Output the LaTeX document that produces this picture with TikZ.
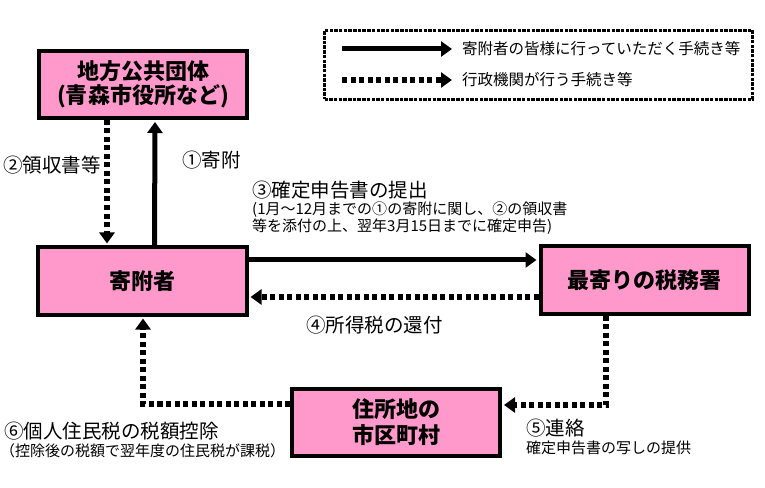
\documentclass[tikz,border=0pt]{standalone}
\usepackage{fontspec}
\setmainfont{Noto Sans CJK JP}
\usetikzlibrary{arrows.meta}
\definecolor{boxpink}{HTML}{FF99CC}
\tikzset{
  box/.style={draw=black, line width=4bp, fill=boxpink, minimum width=208bp,
    minimum height=67bp, inner sep=0pt, align=center,
    font=\fontsize{22bp}{23.5bp}\selectfont\bfseries},
  solidarrow/.style={line width=5bp, -{Triangle[length=11bp,width=15bp]}},
  dotarrow/.style={line width=5.5bp, dash pattern=on 5bp off 3.5bp,
    -{Triangle[length=11bp,width=15bp]}},
  lbl/.style={anchor=west, inner sep=0pt, font=\fontsize{19.5bp}{22bp}\selectfont},
  sublbl/.style={anchor=west, inner sep=0pt, font=\fontsize{15bp}{17bp}\selectfont},
  leglbl/.style={anchor=west, inner sep=0pt, font=\fontsize{15.5bp}{18bp}\selectfont},
  legbox/.style={draw=black, line width=3bp, dash pattern=on 3.5bp off 1.2bp,
    minimum width=428bp, minimum height=69bp, inner sep=0pt},
}
\begin{document}
\begin{tikzpicture}[x=1bp,y=-1bp]
\useasboundingbox (0,0) rectangle (765,488);

% legend
\node[legbox] (legend) at (538.5,65) {};
\coordinate (ls1) at (342,49);
\coordinate (ls2) at (452,49);
\coordinate (ld1) at (342,80);
\coordinate (ld2) at (452,80);
\draw[solidarrow] (ls1) -- (ls2);
\draw[dotarrow] (ld1) -- (ld2);
\node[leglbl] (legt1) at (462,49) {寄附者の皆様に行っていただく手続き等};
\node[leglbl] (legt2) at (462,80) {行政機関が行う手続き等};

% boxes
\node[box] (gov) at (143,84.5) {地方公共団体\\(青森市役所など)};
\node[box] (donor) at (142.5,281) {寄附者};
\node[box] (tax) at (644.5,280) {最寄りの税務署};
\node[box] (city) at (396,422.5) {住所地の\\[2.5bp]市区町村};

% connectors
\draw[solidarrow, shorten >=2bp] ([xshift=12bp]donor.north) -- ([xshift=12bp]gov.south);
\draw[dotarrow, shorten >=2bp] ([xshift=-36bp]gov.south) -- ([xshift=-35.5bp]donor.north);
\draw[solidarrow, shorten >=2bp] ([yshift=21bp]donor.east) -- ([yshift=20bp]tax.west);
\draw[dotarrow, shorten >=2bp] ([yshift=-17bp]tax.west) -- ([yshift=-16bp]donor.east);
\draw[dotarrow, shorten >=2bp] ([xshift=-38.5bp]tax.south) |- ([yshift=17.5bp]city.east);
\draw[dotarrow, shorten >=2bp] ([yshift=18.5bp]city.west) -| ([xshift=0.5bp]donor.south);

% labels
\node[lbl] (l2) at (3,165) {②領収書等};
\node[lbl] (l1) at (182,160) {①寄附};
\node[lbl] (l3) at (252,190) {③確定申告書の提出};
\node[sublbl] (l3a) at (252,210) {(1月～12月までの①の寄附に関し、②の領収書};
\node[sublbl] (l3b) at (252,227) {等を添付の上、翌年3月15日までに確定申告)};
\node[lbl] (l4) at (306,325) {④所得税の還付};
\node[lbl] (l6) at (4,431) {⑥個人住民税の税額控除};
\node[sublbl] (l6a) at (0,451) {（控除後の税額で翌年度の住民税が課税）};
\node[lbl] (l5) at (526,428) {⑤連絡};
\node[sublbl] (l5a) at (526,448) {確定申告書の写しの提供};
\end{tikzpicture}
\end{document}
